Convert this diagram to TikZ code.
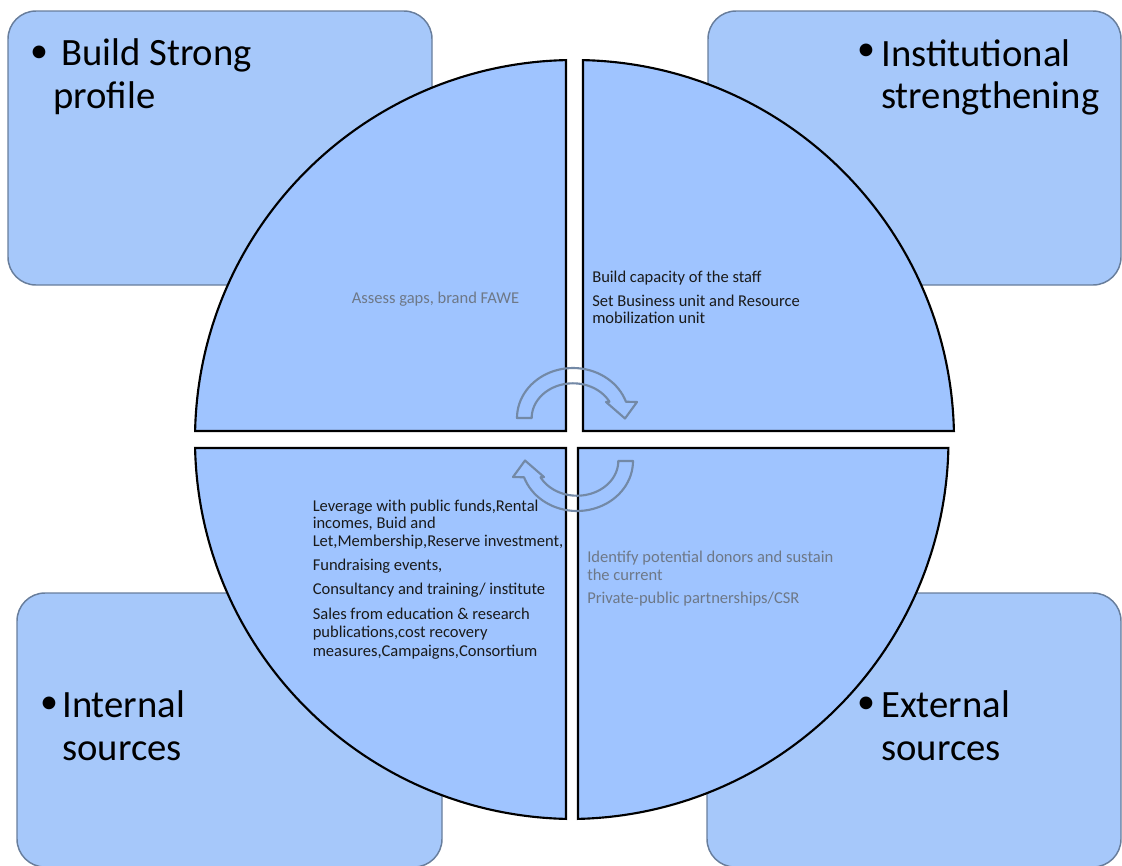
\documentclass[tikz,border=0pt]{standalone}
\usepackage{fontspec}
\setmainfont{Carlito}
\definecolor{quadfill}{HTML}{9FC4FF}
\definecolor{boxfill}{HTML}{A6C8FA}
\definecolor{boxline}{HTML}{687E9C}
\definecolor{arrline}{HTML}{7389A6}
\definecolor{graytxt}{HTML}{6E7887}
\definecolor{darktxt}{HTML}{1A1A1A}
\begin{document}
\begin{tikzpicture}[x=0.75pt,y=-0.75pt,
  cornerbox/.style={draw=boxline, line width=1.1pt, fill=boxfill, rounded corners=21pt},
  quad/.style={draw=black, line width=1.6pt, fill=quadfill, line join=miter},
  cycarrow/.style={draw=arrline, line width=1.6pt, line join=round},
  bigtxt/.style={font=\fontsize{29}{34}\selectfont, inner sep=0pt, anchor=base west, text=black},
  bigdot/.style={font=\fontsize{27}{34}\selectfont, inner sep=0pt, anchor=center, text=black},
  darksmall/.style={font=\fontsize{12.4}{14}\selectfont, inner sep=0pt, anchor=base west, text=darktxt},
  graysmall/.style={darksmall, text=graytxt}]
\useasboundingbox (0,0) rectangle (1122,865);
\clip (0,0) rectangle (1122,865);
% corner boxes
\draw[cornerbox] (8,11) rectangle (432,285);
\draw[cornerbox] (708,11) rectangle (1121,285);
\draw[cornerbox] (17,593) rectangle (442,867);
\draw[cornerbox] (707,593) rectangle (1121,867);
% quadrants
\draw[quad] (566,431) -- (195.1,431) arc[start angle=181.28, end angle=268.72, radius=379.5] -- cycle;
\draw[quad] (583,431) -- (583,60.1) arc[start angle=271.28, end angle=358.72, radius=379.5] -- cycle;
\draw[quad] (566,448) -- (566,818.9) arc[start angle=91.28, end angle=178.72, radius=379.5] -- cycle;
\draw[quad] (578,448) -- (948.4,448) arc[start angle=1.28, end angle=88.64, radius=379.5] -- cycle;
% circular arrows
\draw[cycarrow] (531.7,418) -- (517,418)
  -- plot[domain=180:19, samples=40, smooth] ({573+56*cos(\x)},{418-50*sin(\x)})
  -- (637,402) -- (625,418.5) -- (606,402)
  -- plot[domain=28:180, samples=40, smooth] ({573+41.3*cos(\x)},{418-34.7*sin(\x)}) -- cycle;
\begin{scope}[rotate around={180:(575,439.5)}]
\draw[cycarrow] (531.7,418) -- (517,418)
  -- plot[domain=180:19, samples=40, smooth] ({573+56*cos(\x)},{418-50*sin(\x)})
  -- (637,402) -- (625,418.5) -- (606,402)
  -- plot[domain=28:180, samples=40, smooth] ({573+41.3*cos(\x)},{418-34.7*sin(\x)}) -- cycle;
\end{scope}
% big labels
\node[bigdot] (dotA) at (39,54) {\textbullet};
\node[bigtxt] (labA1) at (61,65) {Build Strong};
\node[bigtxt] (labA2) at (53,108) {profile};
\node[bigdot] (dotB) at (866,52.5) {\textbullet};
\node[bigtxt] (labB1) at (881,66) {Institutional};
\node[bigtxt] (labB2) at (881,108) {strengthening};
\node[bigdot] (dotC) at (49,705) {\textbullet};
\node[bigtxt] (labC1) at (62,717) {Internal};
\node[bigtxt] (labC2) at (62,760) {sources};
\node[bigdot] (dotD) at (866,705) {\textbullet};
\node[bigtxt] (labD1) at (881,717) {External};
\node[bigtxt] (labD2) at (881,760) {sources};
% quadrant texts
\node[graysmall, anchor=base] (qA) at (435.5,303) {Assess gaps, brand FAWE};
\node[darksmall] (qB1) at (592,282.5) {Build capacity of the staff};
\node[darksmall] (qB2) at (592,306) {Set Business unit and Resource};
\node[darksmall] (qB3) at (592,323.5) {mobilization unit};
\node[darksmall] (qC1) at (312.5,511) {Leverage with public funds,Rental};
\node[darksmall] (qC2) at (312.5,528) {incomes, Buid and};
\node[darksmall] (qC3) at (312.5,546) {Let,Membership,Reserve investment,};
\node[darksmall] (qC4) at (312.5,570) {Fundraising events,};
\node[darksmall] (qC5) at (312.5,594) {Consultancy and training/ institute};
\node[darksmall] (qC6) at (312.5,619) {Sales from education \& research};
\node[darksmall] (qC7) at (312.5,637) {publications,cost recovery};
\node[darksmall] (qC8) at (312.5,656) {measures,Campaigns,Consortium};
\node[graysmall] (qD1) at (587,562) {Identify potential donors and sustain};
\node[graysmall] (qD2) at (587,580) {the current};
\node[graysmall] (qD3) at (587,603) {Private-public partnerships/CSR};
\end{tikzpicture}
\end{document}
